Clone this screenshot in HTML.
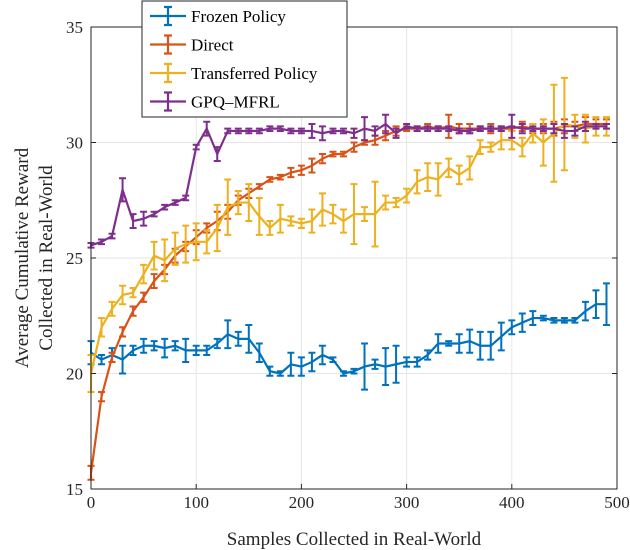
<!DOCTYPE html>
<html><head><meta charset="utf-8"><style>
body{margin:0;background:#fff}
svg{display:block;font-family:"Liberation Serif",serif}
</style></head><body>
<svg id="c" width="630" height="550">
<g id="grid"></g><g id="series"></g><g id="axes"></g><g id="legend"></g>
</svg>
<script>
const xs = Array.from({length:50},(_,i)=>i*10);
const frozen=[20.9,20.6,20.8,20.6,21.0,21.2,21.2,21.1,21.2,21.0,21.0,21.0,21.3,21.7,21.5,21.5,20.9,20.1,20.0,20.4,20.3,20.5,20.8,20.6,20.0,20.1,20.3,20.4,20.3,20.4,20.5,20.5,20.8,21.3,21.3,21.3,21.4,21.2,21.2,21.6,22.0,22.2,22.4,22.4,22.3,22.3,22.3,22.7,23.0,23.0];
const frozenErr=[0.5,0.2,0.3,0.6,0.2,0.3,0.2,0.4,0.2,0.5,0.2,0.2,0.2,0.6,0.3,0.6,0.4,0.2,0.1,0.5,0.4,0.4,0.4,0.1,0.1,0.1,1.0,0.2,0.8,0.8,0.2,0.2,0.2,0.4,0.1,0.4,0.5,0.6,0.6,0.6,0.3,0.4,0.3,0.1,0.1,0.1,0.1,0.4,0.6,0.9];
const direct=[15.7,19.0,20.7,21.8,22.7,23.3,24.0,24.5,25.1,25.5,25.9,26.3,26.6,27.0,27.5,27.8,28.1,28.4,28.5,28.7,28.8,29.0,29.3,29.5,29.5,29.8,30.0,30.1,30.3,30.5,30.6,30.6,30.7,30.6,30.7,30.6,30.6,30.6,30.6,30.6,30.6,30.7,30.6,30.6,30.6,30.7,30.7,30.8,30.8,30.8];
const directErr=[0.3,0.2,0.2,0.2,0.2,0.2,0.3,0.2,0.3,0.2,0.3,0.2,0.4,0.3,0.2,0.2,0.1,0.1,0.1,0.2,0.2,0.3,0.2,0.1,0.1,0.2,0.1,0.2,0.2,0.2,0.1,0.1,0.1,0.1,0.5,0.2,0.2,0.1,0.2,0.1,0.1,0.2,0.2,0.2,0.3,0.3,0.2,0.3,0.2,0.2];
const transferred=[20.0,22.0,22.8,23.4,23.5,24.3,25.1,24.9,25.4,25.6,25.7,25.7,26.3,27.2,27.4,27.4,26.8,26.3,26.7,26.6,26.5,26.6,27.1,26.9,26.6,26.9,26.9,26.9,27.4,27.4,27.7,28.3,28.5,28.4,28.9,28.6,28.9,29.8,29.8,30.1,30.1,29.8,30.4,30.0,30.4,30.8,30.7,30.6,30.7,30.7];
const transferredErr=[0.8,0.4,0.3,0.4,0.2,0.4,0.6,0.9,0.7,0.8,0.8,0.5,1.0,1.2,0.5,0.8,0.8,0.3,0.6,0.2,0.2,0.5,0.7,0.4,0.5,1.3,0.3,1.4,0.3,0.2,0.3,0.5,0.6,0.7,0.4,0.4,0.5,0.3,0.2,0.4,0.4,0.4,0.4,1.0,2.1,2.0,0.5,0.6,0.4,0.4];
const gpq=[25.55,25.7,25.95,27.95,26.6,26.7,26.9,27.2,27.4,27.6,29.8,30.6,29.5,30.5,30.5,30.5,30.5,30.6,30.6,30.5,30.5,30.5,30.4,30.5,30.5,30.4,30.6,30.5,30.8,30.4,30.7,30.6,30.6,30.6,30.6,30.5,30.5,30.6,30.6,30.6,30.7,30.6,30.6,30.6,30.6,30.5,30.5,30.7,30.7,30.7];
const gpqErr=[0.1,0.1,0.1,0.5,0.3,0.3,0.1,0.1,0.1,0.1,0.1,0.3,0.3,0.1,0.1,0.1,0.1,0.1,0.1,0.1,0.1,0.3,0.3,0.1,0.1,0.2,0.5,0.2,0.4,0.2,0.1,0.1,0.1,0.1,0.1,0.1,0.1,0.1,0.1,0.1,0.5,0.2,0.1,0.1,0.2,0.3,0.2,0.2,0.1,0.1];
const xTicks=[0,100,200,300,400,500];
const yTicks=[15,20,25,30,35];
const L=91,R=617,T=27,B=489;
const sx=v=>L+(v/500)*(R-L);
const sy=v=>B-(v-15)/20*(B-T);
const NS="http://www.w3.org/2000/svg";
function mk(t,a,p){const e=document.createElementNS(NS,t);for(const k in a)e.setAttribute(k,a[k]);p.appendChild(e);return e;}
const grid=document.getElementById('grid'),axes=document.getElementById('axes'),ser=document.getElementById('series'),leg=document.getElementById('legend');
mk('rect',{x:L,y:T,width:R-L,height:B-T,fill:'#fff'},grid);
xTicks.forEach(t=>{const l=mk('line',{x1:sx(t),x2:sx(t),y1:T,y2:B,stroke:'#e6e6e6'},grid);


const tl=mk('line',{x1:sx(t),x2:sx(t),y1:B,y2:B-5,stroke:'#262626'},axes);
const tx=mk('text',{x:sx(t),y:B+19,'text-anchor':'middle','font-size':17,fill:'#262626'},axes);tx.textContent=t;

});
yTicks.forEach(t=>{const l=mk('line',{x1:L,x2:R,y1:sy(t),y2:sy(t),stroke:'#e6e6e6'},grid);


mk('line',{x1:L,x2:L+5,y1:sy(t),y2:sy(t),stroke:'#262626'},axes);
mk('line',{x1:R,x2:R-5,y1:sy(t),y2:sy(t),stroke:'#262626'},axes);
const tx=mk('text',{x:L-8,y:sy(t)+6,'text-anchor':'end','font-size':17,fill:'#262626'},axes);tx.textContent=t;

});
const box=mk('rect',{x:L,y:T,width:R-L,height:B-T,fill:'none',stroke:'#262626'},axes);


const xl=mk('text',{x:(L+R)/2,y:545,'text-anchor':'middle','font-size':19,fill:'#262626'},axes);xl.textContent='Samples Collected in Real-World';


const yl=mk('text',{transform:'translate(28,258) rotate(-90)','text-anchor':'middle','font-size':19,fill:'#262626'},axes);


mk('tspan',{x:0,dy:0},yl).textContent='Average Cumulative Reward';
mk('tspan',{x:0,dy:24},yl).textContent='Collected in Real-World';
const series=[['frozen-policy','Frozen Policy','#0072BD',frozen,frozenErr],['direct','Direct','#D95319',direct,directErr],['transferred-policy','Transferred Policy','#EDB120',transferred,transferredErr],['gpq-mfrl','GPQ\u2013MFRL','#7E2F8E',gpq,gpqErr]];
series.forEach(([id,name,col,vals,err])=>{
 const g=mk('g',{},ser);
 
 
 vals.forEach((v,i)=>{const x=sx(xs[i]),y1=sy(v-err[i]),y2=sy(v+err[i]);
  const eb=mk('path',{d:`M${x},${y1}V${y2}M${x-3.5},${y1}h7M${x-3.5},${y2}h7`,stroke:col,'stroke-width':2,fill:'none'},g);
  
  });
 const pl=mk('polyline',{points:vals.map((v,i)=>sx(xs[i])+','+sy(v)).join(' '),fill:'none',stroke:col,'stroke-width':2.2},g);
 
 
});
const lb=mk('rect',{x:142,y:1,width:205,height:116,fill:'#fff',stroke:'#262626'},leg);


series.forEach(([id,name,col],i)=>{const y=16+i*28.5;
 const g=mk('g',{},leg);
 
 
 mk('path',{d:`M150,${y}h36M168,${y-9}v18M164,${y-9}h8M164,${y+9}h8`,stroke:col,'stroke-width':2.2,fill:'none'},g);
 const t=mk('text',{x:191,y:y+6,'font-size':17,fill:'#000'},g);t.textContent=name;});
</script>
</body></html>
